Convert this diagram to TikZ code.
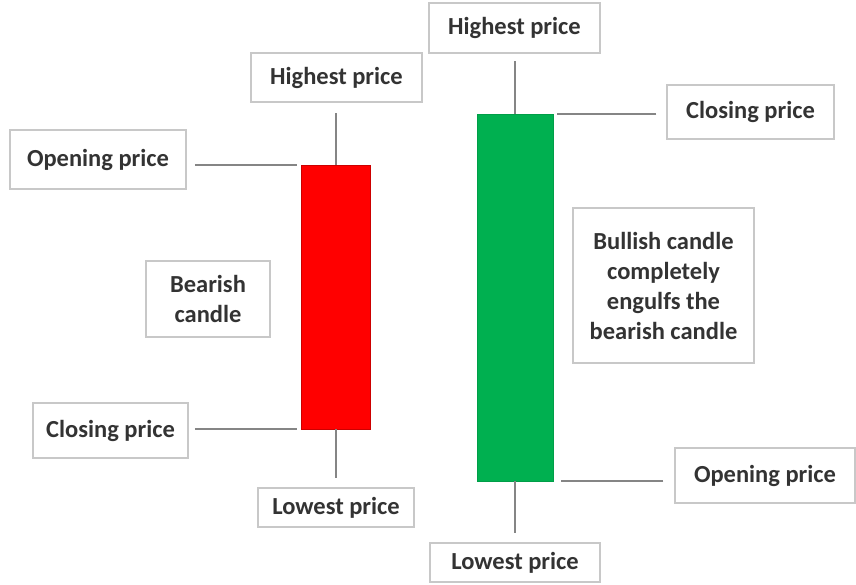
\documentclass[tikz,border=0pt]{standalone}
\usepackage{fontspec}
\setmainfont{Carlito}
\definecolor{bearred}{HTML}{FF0000}
\definecolor{bullgreen}{HTML}{00B050}
\definecolor{boxgray}{HTML}{C8C8C8}
\definecolor{wickgray}{HTML}{858585}
\definecolor{textgray}{HTML}{333333}
\tikzset{
	pricebox/.style={draw=boxgray, line width=1.5pt, fill=white, text=textgray, font=\bfseries\fontsize{24.5}{30}\selectfont, align=center, inner sep=0pt},
	candle/.style={inner sep=0pt, line width=0.8pt},
	wick/.style={draw=wickgray, line width=2pt}
}
\begin{document}
\begin{tikzpicture}[x=1pt,y=-1pt]
				\useasboundingbox (0,0) rectangle (856,585);
				\node[candle, fill=bearred, draw=bearred!80!black, minimum width=69pt, minimum height=264pt] (bear) at (335.5,297) {};
				\node[candle, fill=bullgreen, draw=bullgreen!90!black, minimum width=76pt, minimum height=367pt] (bull) at (515,297.5) {};
				\node[pricebox, minimum width=171pt, minimum height=49pt] (HL) at (336.5,77.5) {Highest price};
				\node[pricebox, minimum width=176pt, minimum height=59pt] (OL) at (98,159.5) {Opening price};
				\node[pricebox, minimum width=124pt, minimum height=76pt] (BL) at (208,299) {Bearish\\candle};
				\node[pricebox, minimum width=155pt, minimum height=55pt] (CL) at (110.5,430.5) {Closing price};
				\node[pricebox, minimum width=156pt, minimum height=39pt] (LL) at (336,507.5) {Lowest price};
				\node[pricebox, minimum width=171pt, minimum height=50pt] (HR) at (514.5,28) {Highest price};
				\node[pricebox, minimum width=167pt, minimum height=54pt] (CR) at (750.5,112) {Closing price};
				\node[pricebox, minimum width=181pt, minimum height=155pt] (BR) at (663.5,285.5) {Bullish candle\\completely\\engulfs the\\bearish candle};
				\node[pricebox, minimum width=180pt, minimum height=55pt] (OR) at (765,475.5) {Opening price};
				\node[pricebox, minimum width=170pt, minimum height=39pt] (LR) at (515,562.5) {Lowest price};
				\draw [wick, shorten >=10pt] (bear.north) -- (bear.north |- HL.south);
				\draw [wick, shorten >=9pt] (bear.south) -- (bear.south |- LL.north);
				\draw [wick, shorten >=7pt] (bull.north) -- (bull.north |- HR.south);
				\draw [wick, shorten >=9pt] (bull.south) -- (bull.south |- LR.north);
				\draw [wick, shorten <=8pt, shorten >=4pt] (bear.north west -| OL.east) -- (bear.north west);
				\draw [wick, shorten <=6pt, shorten >=4pt] (bear.south west -| CL.east) -- (bear.south west);
				\draw [wick, shorten <=10pt, shorten >=4pt] (bull.north east -| CR.west) -- (bull.north east);
				\draw [wick, shorten <=11pt, shorten >=8pt] (bull.south east -| OR.west) -- (bull.south east);
			\end{tikzpicture}
\end{document}
